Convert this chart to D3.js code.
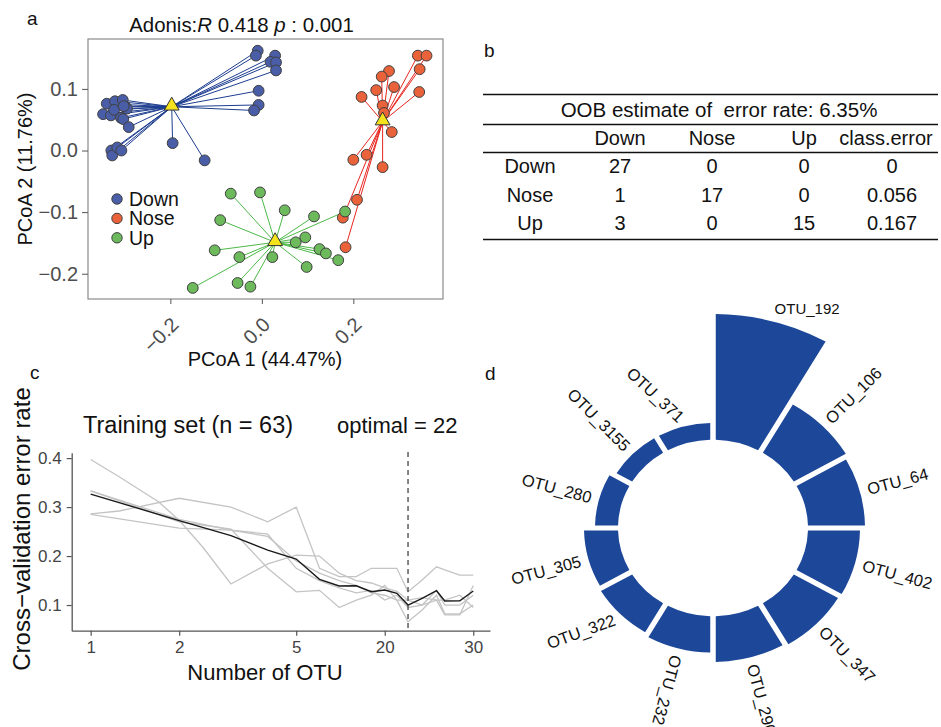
<!DOCTYPE html>
<html><head><meta charset="utf-8">
<script src="https://cdn.jsdelivr.net/npm/d3@7"></script>
<style>body{margin:0;background:#fff} svg{display:block;font-family:"Liberation Sans",Arial,sans-serif}</style>
</head><body><svg id="chart" width="941" height="727"></svg>
<script>
// ---------------- DATA ----------------
// Panel a: PCoA coordinates [PCoA1, PCoA2]
const groups = ["Down", "Nose", "Up"];
const downPoints = [[-0.009,0.162],[-0.013,0.154],[0.029,0.154],[0.019,0.144],[0.031,0.143],[0.031,0.130],
  [-0.007,0.097],[-0.007,0.074],[-0.017,0.065],[-0.339,0.076],[-0.321,0.080],[-0.304,0.082],[-0.347,0.059],
  [-0.330,0.057],[-0.323,0.066],[-0.298,0.071],[-0.295,0.068],[-0.308,0.053],[-0.303,0.051],[-0.291,0.038],
  [-0.329,0.000],[-0.327,-0.008],[-0.316,0.005],[-0.307,0.000],[-0.195,0.012],[-0.125,-0.016],[-0.302,0.072]];
const nosePoints = [[0.341,0.154],[0.360,0.154],[0.345,0.132],[0.278,0.129],[0.262,0.120],[0.289,0.103],
  [0.250,0.098],[0.344,0.095],[0.218,0.087],[0.264,0.073],[0.267,0.061],[0.284,0.030],[0.229,-0.007],
  [0.200,-0.015],[0.264,-0.027],[0.208,-0.080],[0.177,-0.109],[0.183,-0.157]];
const upPoints = [[-0.068,-0.070],[-0.004,-0.068],[0.050,-0.097],[0.114,-0.107],[-0.091,-0.113],[0.182,-0.099],
  [0.095,-0.141],[0.074,-0.149],[-0.103,-0.162],[-0.049,-0.173],[0.023,-0.173],[0.126,-0.160],[0.140,-0.167],
  [0.167,-0.178],[0.098,-0.189],[-0.151,-0.223],[-0.053,-0.215],[-0.025,-0.221]];
const centroidPC1 = [-0.197, 0.264, 0.029];
const centroidPC2 = [0.071, 0.047, -0.149];
const pcoaXTicks = [-0.2, 0.0, 0.2];
const pcoaYTicks = [-0.2, -0.1, 0.0, 0.1];

// Panel b: random forest confusion matrix
const tableCols = ["Down", "Nose", "Up", "class.error"];
const tableRows = ["Down", "Nose", "Up"];
const confusion = [[27, 0, 0], [1, 17, 0], [3, 0, 15]];
const classError = ["0", "0.056", "0.167"];
const oobRate = "6.35%";

// Panel c: cross-validation error curves
const nOTU = [1, 2, 3, 4, 5, 6, 7, 8, 9, 10, 11, 12, 13.4, 15, 16, 18, 20];
const meanError = [0.3265, 0.2724, 0.2418, 0.2122, 0.1939, 0.1524, 0.1388, 0.1394, 0.1271, 0.1306, 0.1239,
  0.100, 0.1137, 0.1292, 0.1082, 0.1088, 0.1286];
const cvRep1 = [[1,0.286],[1.25,0.292],[2,0.318],[3,0.300],[4,0.270],[5,0.300],[6,0.175],[7,0.158],[8,0.158],
  [9,0.175],[10,0.175],[11,0.175],[12,0.127],[13.4,0.151],[15,0.178],[16,0.172],[18,0.161],[20,0.161]];
const cvRep2 = [[1,0.397],[1.25,0.362],[1.7,0.311],[2,0.273],[2.4,0.219],[3,0.143],[4,0.184],[5,0.202],[6,0.200],
  [7,0.165],[8,0.150],[9,0.145],[10,0.135],[11,0.128],[12,0.110],[13.4,0.115],[15,0.110],[16,0.080],[18,0.080],[20,0.140]];
const cvRep3 = [[1,0.333],[2,0.275],[3,0.253],[4,0.245],[5,0.175],[6,0.150],[7,0.135],[8,0.125],[9,0.130],
  [10,0.110],[11,0.120],[12,0.095],[13.4,0.100],[15,0.130],[16,0.100],[18,0.100],[20,0.120]];
const cvRep4 = [[1,0.333],[2,0.270],[3,0.255],[4,0.175],[5,0.127],[6,0.130],[7,0.095],[8,0.110],[9,0.120],
  [10,0.140],[11,0.110],[12,0.066],[13.4,0.090],[15,0.120],[16,0.082],[18,0.082],[20,0.100]];
const cvRep5 = [[1,0.285],[2,0.257],[3,0.253],[4,0.240],[5,0.190],[6,0.165],[7,0.150],[8,0.140],[9,0.125],
  [10,0.120],[11,0.110],[12,0.110],[13.4,0.100],[15,0.110],[16,0.110],[18,0.120],[20,0.095]];
const cvXTickValues = [1, 2, 5, 10, 20];
const cvXTickLabels = ["1", "2", "5", "20", "30"];
const cvYTicks = [0.1, 0.2, 0.3, 0.4];
const optimalX = 12;
const optimalLabel = "optimal = 22";

// Panel d: OTU importance (circular bar chart, clockwise from top)
const otuNames = ["OTU_192","OTU_106","OTU_64","OTU_402","OTU_347","OTU_290","OTU_232","OTU_322","OTU_305","OTU_280","OTU_3155","OTU_371"];
const otuImportance = [13.5, 6.0, 5.7, 5.2, 5.1, 4.9, 3.9, 3.6, 3.4, 2.3, 1.8, 1.8];

// ---------------- DRAWING ----------------
const svg = d3.select("#chart");
const FONT = '"Liberation Sans", Arial, sans-serif';
const groupFill = {Down: "#4a5ea8", Nose: "#ea6239", Up: "#6cba5c"};
const groupLine = {Down: "#1d3d8f", Nose: "#e8251f", Up: "#4cb847"};

function panelLabel(t, x, y) {
  svg.append("text").attr("x", x).attr("y", y).attr("font-size", 19).attr("fill", "#111").text(t);
}
panelLabel("a", 27, 25); panelLabel("b", 484, 57); panelLabel("c", 30, 379); panelLabel("d", 485, 380);

// ---- Panel a ----
const ax = d3.scaleLinear().domain([-0.38, 0.396]).range([88, 443]);
const ay = d3.scaleLinear().domain([-0.241, 0.181]).range([299, 39]);
const ga = svg.append("g");
ga.append("rect").attr("x", 88).attr("y", 39).attr("width", 355).attr("height", 260)
  .attr("fill", "#fff").attr("stroke", "#8a8a8a").attr("stroke-width", 1.2);

const pointSets = {Down: downPoints, Nose: nosePoints, Up: upPoints};
groups.forEach((g, gi) => {
  ga.append("g").selectAll("line").data(pointSets[g]).join("line")
    .attr("x1", ax(centroidPC1[gi])).attr("y1", ay(centroidPC2[gi]))
    .attr("x2", d => ax(d[0])).attr("y2", d => ay(d[1]))
    .attr("stroke", groupLine[g]).attr("stroke-width", 1);
});
groups.forEach(g => {
  ga.append("g").selectAll("circle").data(pointSets[g]).join("circle")
    .attr("cx", d => ax(d[0])).attr("cy", d => ay(d[1])).attr("r", 5.4)
    .attr("fill", groupFill[g]).attr("stroke", "#404040").attr("stroke-width", 1);
});
groups.forEach((g, gi) => {
  ga.append("path").attr("d", d3.symbol(d3.symbolTriangle, 95)())
    .attr("transform", `translate(${ax(centroidPC1[gi])},${ay(centroidPC2[gi]) - 1})`)
    .attr("fill", "#f4e31c").attr("stroke", "#333").attr("stroke-width", 1);
});

const axA = ga.append("g").attr("transform", "translate(0,299)")
  .call(d3.axisBottom(ax).tickValues(pcoaXTicks).tickFormat(d3.format(".1f")).tickSize(5).tickSizeOuter(0));
axA.select(".domain").remove();
axA.selectAll("line").attr("stroke", "#555");
axA.selectAll("text").attr("font-size", 20).attr("font-family", FONT).attr("fill", "#4d4d4d")
  .attr("x", 0).attr("y", 0).attr("dy", "0.35em").attr("text-anchor", "end")
  .attr("transform", "translate(4,22) rotate(-45)");
const ayA = ga.append("g").attr("transform", "translate(88,0)")
  .call(d3.axisLeft(ay).tickValues(pcoaYTicks).tickFormat(d3.format(".1f")).tickSize(6).tickPadding(4));
ayA.select(".domain").remove();
ayA.selectAll("line").attr("stroke", "#555");
ayA.selectAll("text").attr("font-size", 20).attr("font-family", FONT).attr("fill", "#4d4d4d");

ga.append("text").attr("x", 265).attr("y", 366).attr("text-anchor", "middle").attr("font-size", 20)
  .attr("fill", "#111").text("PCoA 1 (44.47%)");
ga.append("text").attr("transform", "translate(32,169) rotate(-90)").attr("text-anchor", "middle")
  .attr("font-size", 20).attr("fill", "#111").text("PCoA 2 (11.76%)");
const title = ga.append("text").attr("x", 241.5).attr("y", 32).attr("text-anchor", "middle")
  .attr("font-size", 20.4).attr("fill", "#111");
title.append("tspan").text("Adonis:");
title.append("tspan").attr("font-style", "italic").text("R");
title.append("tspan").text(" 0.418 ");
title.append("tspan").attr("font-style", "italic").text("p");
title.append("tspan").text(" : 0.001");

// legend
const leg = ga.append("g");
groups.forEach((g, i) => {
  const y = 199 + i * 19.4;
  leg.append("circle").attr("cx", 117).attr("cy", y).attr("r", 5.2).attr("fill", groupFill[g])
    .attr("stroke", "#404040").attr("stroke-width", 1);
  leg.append("text").attr("x", 129).attr("y", y).attr("dy", "0.36em").attr("font-size", 19.5)
    .attr("fill", "#111").text(g);
});

// ---- Panel b ----
const gb = svg.append("g").attr("font-size", 20).attr("fill", "#111");
const tL = 483, tR = 938;
[94.5, 124.5, 152.5, 239.5].forEach(y => {
  gb.append("line").attr("x1", tL).attr("x2", tR).attr("y1", y).attr("y2", y).attr("stroke", "#111").attr("stroke-width", 1.6);
});
gb.append("text").attr("x", 719).attr("y", 117).attr("text-anchor", "middle").attr("font-size", 20.5)
  .style("white-space", "pre").text("OOB estimate of  error rate: " + oobRate);
const colX = [620, 712, 804, 886];
const rowLabelX = 530;
const rowY = [173, 202, 230];
tableCols.forEach((c, i) => {
  gb.append("text").attr("x", colX[i]).attr("y", 145).attr("text-anchor", "middle").text(c);
});
tableRows.forEach((r, ri) => {
  gb.append("text").attr("x", rowLabelX).attr("y", rowY[ri]).attr("text-anchor", "middle").text(r);
  confusion[ri].forEach((v, ci) => {
    gb.append("text").attr("x", colX[ci]).attr("y", rowY[ri]).attr("text-anchor", "middle").text(v);
  });
  gb.append("text").attr("x", colX[3] + 6).attr("y", rowY[ri]).attr("text-anchor", "middle").text(classError[ri]);
});

// ---- Panel c ----
const cx = d3.scaleLog().domain([0.862, 22.8]).range([71.7, 490]);
const cy = d3.scaleLinear().domain([0.0476, 0.411]).range([630.7, 452.7]);
const gc = svg.append("g");
const lineGen = d3.line().x(d => cx(d[0])).y(d => cy(d[1]));
[cvRep1, cvRep2, cvRep3, cvRep4, cvRep5].forEach(rep => {
  gc.append("path").attr("d", lineGen(rep)).attr("fill", "none").attr("stroke", "#c4c4c4").attr("stroke-width", 1.3);
});
gc.append("path").attr("d", lineGen(nOTU.map((x, i) => [x, meanError[i]])))
  .attr("fill", "none").attr("stroke", "#1a1a1a").attr("stroke-width", 1.4);
gc.append("line").attr("x1", cx(optimalX)).attr("x2", cx(optimalX)).attr("y1", 452).attr("y2", 630.7)
  .attr("stroke", "#444").attr("stroke-width", 1.3).attr("stroke-dasharray", "5,4");

const cxA = gc.append("g").attr("transform", "translate(0,630.7)")
  .call(d3.axisBottom(cx).tickValues(cvXTickValues).tickFormat((d, i) => cvXTickLabels[i]).tickSize(5).tickPadding(5).tickSizeOuter(0));
cxA.select(".domain").attr("stroke", "#555").attr("stroke-width", 1.3);
cxA.selectAll("line").attr("stroke", "#555").attr("stroke-width", 1.2);
cxA.selectAll("text").attr("font-size", 17).attr("font-family", FONT).attr("fill", "#444");
const cyA = gc.append("g").attr("transform", "translate(71.7,0)")
  .call(d3.axisLeft(cy).tickValues(cvYTicks).tickFormat(d3.format(".1f")).tickSize(5).tickPadding(5).tickSizeOuter(0));
cyA.select(".domain").attr("stroke", "#555").attr("stroke-width", 1.3);
cyA.selectAll("line").attr("stroke", "#555").attr("stroke-width", 1.2);
cyA.selectAll("text").attr("font-size", 17).attr("font-family", FONT).attr("fill", "#444");

gc.append("text").attr("x", 83).attr("y", 433).attr("font-size", 23.5).attr("fill", "#111").text("Training set (n = 63)");
gc.append("text").attr("x", 337).attr("y", 433).attr("font-size", 22).attr("fill", "#111").text(optimalLabel);
gc.append("text").attr("x", 265).attr("y", 680).attr("text-anchor", "middle").attr("font-size", 22)
  .attr("fill", "#111").text("Number of OTU");
gc.append("text").attr("transform", "translate(30,529) rotate(-90)").attr("text-anchor", "middle")
  .attr("font-size", 24).attr("fill", "#111").text("Cross\u2212validation error rate");

// ---- Panel d ----
const dcx = 713, dcy = 528, squash = 0.93, inner = 95;
const rScale = d3.scaleLinear().domain([0, d3.max(otuImportance)]).range([inner, 230]);
const step = 2 * Math.PI / otuNames.length;
const arc = d3.arc().innerRadius(inner).outerRadius(d => rScale(d.v))
  .startAngle(d => d.i * step).endAngle(d => (d.i + 1) * step).padAngle(0.058).padRadius(inner);
const gd = svg.append("g").attr("transform", `translate(${dcx},${dcy}) scale(1,${squash})`);
gd.selectAll("path").data(otuNames.map((n, i) => ({n, i, v: otuImportance[i]}))).join("path")
  .attr("d", arc).attr("fill", "#1d4899");

const labelRotOverride = {"OTU_192": 0, "OTU_322": -20, "OTU_371": 43};
otuNames.forEach((n, i) => {
  const a = (i + 0.5) * step;
  const deg = a * 180 / Math.PI;
  const r = rScale(otuImportance[i]) + 8;
  const x = dcx + r * Math.sin(a), y = dcy - r * Math.cos(a) * squash;
  const flip = deg > 200;
  let rot = flip ? deg - 270 : deg - 90;
  if (n in labelRotOverride) rot = labelRotOverride[n];
  svg.append("text").attr("transform", `translate(${x},${y}) rotate(${rot})`)
    .attr("text-anchor", flip ? "end" : "start").attr("dy", n === "OTU_192" ? "0" : "0.35em")
    .attr("font-size", n === "OTU_192" ? 15 : 16.5).attr("fill", "#111").text(n);
});
</script>
</body></html>
